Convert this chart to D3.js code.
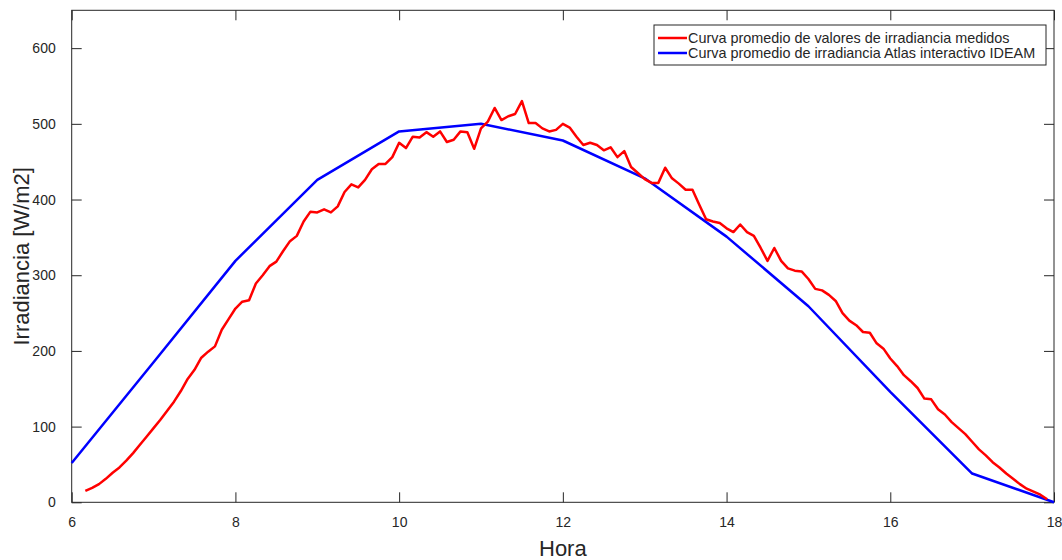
<!DOCTYPE html>
<html>
<head>
<meta charset="utf-8">
<script src="https://cdn.jsdelivr.net/npm/d3@7"></script>
<style>
  body { margin: 0; background: #fff; }
  svg text { font-family: "Liberation Sans", Arial, sans-serif; fill: #262626; }
</style>
</head>
<body>
<svg id="chart" width="1062" height="560"></svg>
<script>
// Measured curve: one value every 5 minutes starting 06:10
var measuredStart = 6 + 10 / 60;
var measuredStep = 5 / 60;
var measuredValues = [
    15, 19, 24, 31, 39, 46, 55, 65, 76, 87,                      // 6:10 - 6:55
    98, 109, 121, 133, 147, 163, 175, 191, 199, 206, 228, 242,   // 7
    256, 265, 267, 289, 300, 312, 318, 332, 345, 352, 371, 384,  // 8
    383, 387, 383, 391, 410, 420, 416, 426, 440, 447, 447, 456,  // 9
    475, 468, 483, 482, 489, 483, 490, 476, 479, 490, 489, 467,  // 10
    494, 503, 521, 505, 510, 513, 530, 501, 501, 494, 490, 492,  // 11
    500, 495, 483, 472, 475, 472, 465, 469, 456, 464, 443, 435,  // 12
    427, 422, 422, 442, 428, 421, 413, 413, 393, 374, 371, 369,  // 13
    362, 357, 367, 357, 352, 336, 319, 336, 319, 309, 306, 305,  // 14
    295, 282, 280, 274, 266, 250, 240, 234, 225, 224, 210, 203,  // 15
    190, 180, 168, 160, 151, 137, 136, 123, 116, 106, 98, 90,    // 16
    80, 70, 62, 53, 46, 38, 31, 24, 18, 14, 10, 4                // 17
];

// IDEAM atlas curve: hourly
var atlasHours = [6, 7, 8, 9, 10, 11, 12, 13, 14, 15, 16, 17, 18];
var atlasValues = [52, 185, 319, 426, 490, 500, 478, 428, 351, 259, 146, 38, 0];

var xTicks = [6, 8, 10, 12, 14, 16, 18];
var yTicks = [0, 100, 200, 300, 400, 500, 600];

var legendLabels = [
    "Curva promedio de valores de irradiancia medidos",
    "Curva promedio de irradiancia Atlas interactivo IDEAM"
];
var seriesColors = ["#ff0000", "#0000ff"];

var margin = {left: 71.7, right: 8, top: 10.3, bottom: 57.7};
var width = 1062 - margin.left - margin.right;
var height = 560 - margin.top - margin.bottom;

var svg = d3.select("#chart");
var g = svg.append("g")
    .attr("transform", "translate(" + margin.left + "," + margin.top + ")");

var x = d3.scaleLinear().domain([6, 18]).range([0, width]);
var y = d3.scaleLinear().domain([0, 650]).range([height, 0]);

var axisColor = "#262626";

// Axes with inward ticks (box style)
function styleAxis(sel) {
    sel.select(".domain").remove();
    sel.selectAll(".tick line").attr("stroke", axisColor).attr("stroke-width", 1);
    sel.selectAll(".tick text").style("font-size", "14px").attr("fill", axisColor);
}

g.append("g")
    .attr("transform", "translate(0," + height + ")")
    .call(d3.axisBottom(x).tickValues(xTicks).tickSizeInner(-10).tickPadding(15).tickFormat(d3.format("d")))
    .call(styleAxis);

g.append("g")
    .call(d3.axisTop(x).tickValues(xTicks).tickSizeInner(-10).tickFormat(""))
    .call(styleAxis);

g.append("g")
    .call(d3.axisLeft(y).tickValues(yTicks).tickSizeInner(-10).tickPadding(16).tickFormat(d3.format("d")))
    .call(styleAxis);

g.append("g")
    .attr("transform", "translate(" + width + ",0)")
    .call(d3.axisRight(y).tickValues(yTicks).tickSizeInner(-10).tickFormat(""))
    .call(styleAxis);

g.append("rect")
    .attr("width", width)
    .attr("height", height)
    .attr("fill", "none")
    .attr("stroke", axisColor)
    .attr("stroke-width", 1);

// Series
var line = d3.line()
    .x(function(d) { return x(d[0]); })
    .y(function(d) { return y(d[1]); });

var measured = measuredValues.map(function(v, i) { return [measuredStart + i * measuredStep, v]; });
var atlas = atlasHours.map(function(h, i) { return [h, atlasValues[i]]; });

g.append("path")
    .datum(atlas)
    .attr("d", line)
    .attr("fill", "none")
    .attr("stroke", seriesColors[1])
    .attr("stroke-width", 2.5)
    .attr("stroke-linejoin", "round");

g.append("path")
    .datum(measured)
    .attr("d", line)
    .attr("fill", "none")
    .attr("stroke", seriesColors[0])
    .attr("stroke-width", 2.5)
    .attr("stroke-linejoin", "round");

// Axis titles
svg.append("text")
    .attr("x", margin.left + width / 2)
    .attr("y", 556)
    .attr("text-anchor", "middle")
    .style("font-size", "22px")
    .text("Hora");

svg.append("text")
    .attr("transform", "translate(29," + (margin.top + height / 2) + ") rotate(-90)")
    .attr("text-anchor", "middle")
    .style("font-size", "22px")
    .text("Irradiancia [W/m2]");

// Legend
var legend = svg.append("g").attr("transform", "translate(654,25)");

legend.append("rect")
    .attr("width", 392)
    .attr("height", 40)
    .attr("fill", "#fff")
    .attr("stroke", axisColor)
    .attr("stroke-width", 1);

legendLabels.forEach(function(label, i) {
    var row = legend.append("g").attr("transform", "translate(0," + (13 + i * 15) + ")");
    row.append("line")
        .attr("x1", 4).attr("x2", 33)
        .attr("stroke", seriesColors[i])
        .attr("stroke-width", 2.5);
    row.append("text")
        .attr("x", 34)
        .attr("dy", "0.35em")
        .style("font-size", "14.4px")
        .attr("fill", "#000")
        .text(label);
});
</script>
</body>
</html>
